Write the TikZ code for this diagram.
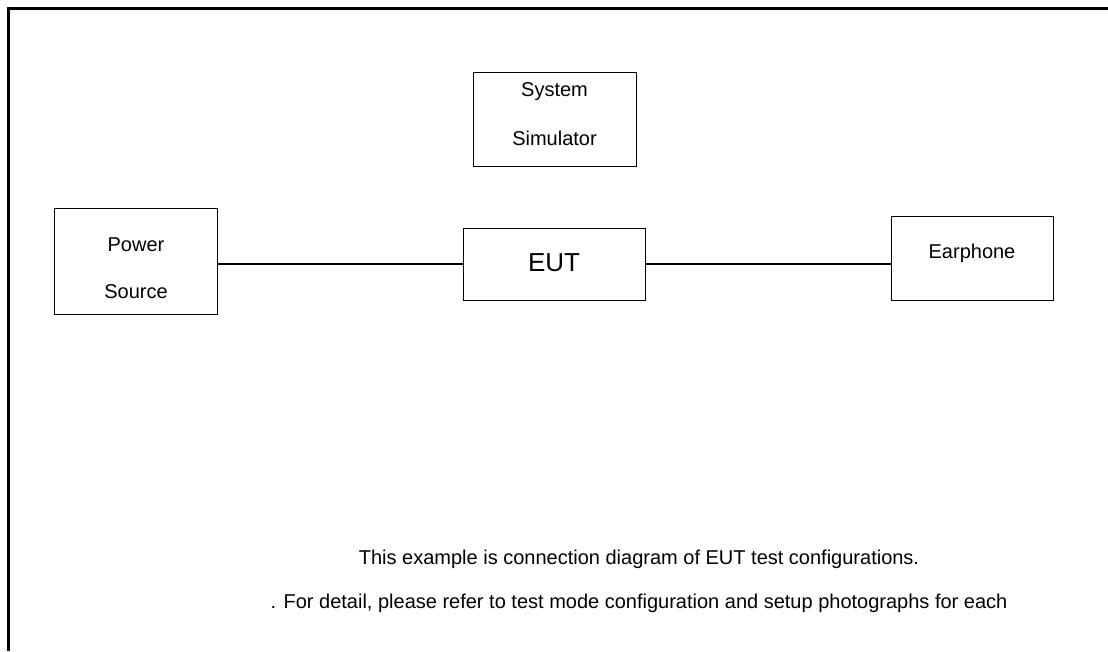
\documentclass[tikz,border=0pt]{standalone}
\usepackage{fontspec}
\setmainfont{Liberation Sans}
\usetikzlibrary{positioning}

\begin{document}
\begin{tikzpicture}[x=1pt,y=-1pt,
	unit/.style={draw,line width=0.9pt,inner sep=0pt},
	lbl/.style={anchor=base,inner sep=0pt,font=\fontsize{20}{24}\selectfont},
	link/.style={line width=1.2pt}]

	\useasboundingbox (0,0) rectangle (1108,651);

	% ---- frame

	\draw[line width=3pt] (8.5,651) -- (8.5,8) -- (1108,8);

	% ---- boxes

	\node[unit,minimum width=163pt,minimum height=94pt] (sim) at (554.5,119) {};
	\node[unit,minimum width=163pt,minimum height=106pt] (power) at (135.5,261) {};
	\node[unit,minimum width=182pt,minimum height=72pt] (eut) at (554,264) {};
	\node[unit,minimum width=162pt,minimum height=84pt] (ear) at (972,258) {};

	% ---- labels

	\node[lbl] (simA) at (554.5,96) {System};
	\node[lbl] (simB) at (554.5,145) {Simulator};
	\node[lbl] (powerA) at (136,251) {Power};
	\node[lbl] (powerB) at (136,298) {Source};
	\node[lbl,font=\fontsize{26}{30}\selectfont] (eutA) at (554,271) {EUT};
	\node[lbl] (earA) at (972,258) {Earphone};

	% ---- connections

	\draw[link] (power.east |- eut.west) -- (eut.west);
	\draw[link] (eut.east) -- (ear.west |- eut.east);

	% ---- note

	\node[lbl] (noteA) at (639,564) {This example is connection diagram of EUT test configurations.};
	\node[lbl] (noteB) at (639,608) {. For detail, please refer to test mode configuration and setup photographs for each};

\end{tikzpicture}
\end{document}
